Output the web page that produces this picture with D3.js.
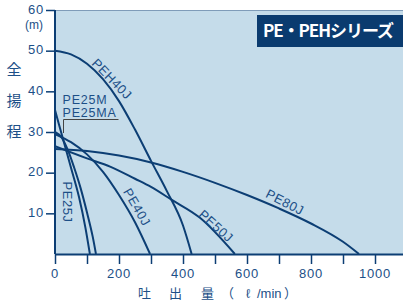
<!DOCTYPE html>
<html>
<head>
<meta charset="utf-8">
<script src="https://cdn.jsdelivr.net/npm/d3@7"></script>
<style>
  html, body { margin: 0; padding: 0; background: #fff; }
  svg { display: block; }
</style>
</head>
<body>
<svg class="target"></svg>
<script>
// flow (l/min) and head (m)
const peh40jQ = [0, 50, 100, 150, 200, 250, 300, 350, 400, 427];
const peh40jH = [50, 49.1, 46.8, 43, 37.6, 30.6, 22.9, 15.4, 7, 0];
const pe25mQ = [0, 25, 50, 75, 95, 109];
const pe25mH = [35.4, 28.3, 21.2, 14, 6.5, 0];
const pe25jQ = [0, 20, 40, 60, 80, 100, 118, 128];
const pe25jH = [30, 28.7, 25.6, 21.2, 16.2, 10.2, 4.2, 0];
const pe40jQ = [0, 50, 100, 150, 200, 250, 297];
const pe40jH = [29.5, 27.5, 24.5, 20.2, 14.5, 7.8, 0];
const pe50jQ = [0, 100, 172, 250, 300, 365, 453, 562];
const pe50jH = [26.5, 23.5, 21.5, 18.5, 16.5, 13.3, 8.9, 0];
const pe80jQ = [0, 100, 200, 300, 400, 500, 600, 700, 800, 900, 950];
const pe80jH = [25.8, 25.3, 24.2, 22.5, 20.2, 17.5, 14.5, 11.2, 7.5, 3, 0];

const xTicks = [0, 100, 200, 300, 400, 500, 600, 700, 800, 900, 1000];
const xLabels = [0, 200, 400, 600, 800, 1000];
const yTicks = [10, 20, 30, 40, 50, 60];
const yTitle = ["全", "揚", "程"];
const title = "PE・PEHシリーズ";

document.addEventListener("DOMContentLoaded", function() {
    drawChart();
});

function drawChart() {
    const width = 403;
    const height = 305;
    const navy = "#0c3e74";
    const textCol = "#1c4f87";
    const font = "'Liberation Sans', Arial, sans-serif";
    const cjk = "'Noto Sans CJK JP', sans-serif";

    const svg = d3.select(".target")
        .attr("viewBox", [0, 0, width, height])
        .attr("width", width)
        .attr("height", height);

    const x = d3.scaleLinear().domain([0, 1000]).range([55, 375]);
    const y = d3.scaleLinear().domain([0, 60]).range([254, 10]);

    // plot background
    svg.append("rect")
        .attr("x", x(0)).attr("y", y(60))
        .attr("width", width - x(0)).attr("height", y(0) - y(60))
        .attr("fill", "#c5dcea");
    svg.append("line")
        .attr("x1", x(0)).attr("x2", width)
        .attr("y1", y(60) + 0.5).attr("y2", y(60) + 0.5)
        .attr("stroke", "#7f9cb9").attr("stroke-width", 1);

    svg.append("clipPath").attr("id", "plot")
        .append("rect")
        .attr("x", x(0)).attr("y", y(60))
        .attr("width", width - x(0)).attr("height", y(0) - y(60));

    // title box
    svg.append("rect")
        .attr("x", 257).attr("y", 15).attr("width", width - 257).attr("height", 32)
        .attr("fill", "#0a3b6f");
    svg.append("text")
        .attr("x", 263).attr("y", 36.5)
        .attr("font-family", cjk).attr("font-weight", "bold")
        .attr("font-size", 17).attr("fill", "#fff")
        .attr("textLength", 131).attr("lengthAdjust", "spacing")
        .text(title);

    // curves
    const series = [
        [peh40jQ, peh40jH], [pe25mQ, pe25mH], [pe25jQ, pe25jH],
        [pe40jQ, pe40jH], [pe50jQ, pe50jH], [pe80jQ, pe80jH]
    ];
    const line = d3.line()
        .x(d => x(d[0]))
        .y(d => y(d[1]))
        .curve(d3.curveMonotoneX);
    svg.append("g").attr("clip-path", "url(#plot)")
        .selectAll("path")
        .data(series)
        .enter()
        .append("path")
        .attr("d", s => line(d3.zip(s[0], s[1])))
        .attr("fill", "none")
        .attr("stroke", navy)
        .attr("stroke-width", 2);

    // x axis
    const xAxis = svg.append("g")
        .attr("transform", "translate(0," + y(0) + ")")
        .call(d3.axisBottom(x).tickValues(xTicks).tickSize(10).tickFormat(""));
    xAxis.select(".domain").attr("d", "M" + x(0) + ",0.5H" + width);
    xAxis.selectAll("line").attr("stroke", navy).attr("stroke-width", 1.5);
    xAxis.select(".domain").attr("stroke", navy).attr("stroke-width", 2);
    svg.append("g").selectAll("text")
        .data(xLabels)
        .enter()
        .append("text")
        .attr("x", d => x(d))
        .attr("y", 278)
        .attr("text-anchor", "middle")
        .attr("font-family", font).attr("font-size", 13)
        .attr("letter-spacing", 0.8)
        .attr("fill", textCol)
        .text(d => d);

    // y axis
    const yAxis = svg.append("g")
        .attr("transform", "translate(" + x(0) + ",0)")
        .call(d3.axisLeft(y).tickValues(yTicks).tickSize(9).tickFormat(""));
    yAxis.select(".domain").attr("d", "M0," + y(60) + "V" + y(0));
    yAxis.selectAll("line").attr("stroke", navy).attr("stroke-width", 1.5);
    yAxis.select(".domain").attr("stroke", navy).attr("stroke-width", 2);
    svg.append("g").selectAll("text")
        .data(yTicks)
        .enter()
        .append("text")
        .attr("x", 44)
        .attr("y", d => y(d) + 3.5)
        .attr("text-anchor", "end")
        .attr("font-family", font).attr("font-size", 13)
        .attr("letter-spacing", 0.8)
        .attr("fill", textCol)
        .text(d => d);
    svg.append("text")
        .attr("x", 34).attr("y", 29)
        .attr("text-anchor", "middle")
        .attr("font-family", font).attr("font-size", 12)
        .attr("fill", textCol)
        .text("(m)");
    svg.append("g").selectAll("text")
        .data(yTitle)
        .enter()
        .append("text")
        .attr("x", 14)
        .attr("y", (d, i) => [75, 106, 137][i])
        .attr("text-anchor", "middle")
        .attr("font-family", cjk).attr("font-size", 15)
        .attr("fill", textCol)
        .text(d => d);

    // x title
    const xt = svg.append("text")
        .attr("y", 298)
        .attr("font-family", cjk).attr("font-size", 13)
        .attr("fill", textCol);
    xt.append("tspan").attr("x", 138).text("吐");
    xt.append("tspan").attr("x", 169).text("出");
    xt.append("tspan").attr("x", 201).text("量");
    xt.append("tspan").attr("x", 221).text("（");
    xt.append("tspan").attr("x", 246).attr("font-family", font).text("ℓ");
    xt.append("tspan").attr("x", 257).attr("font-family", font).text("/min");
    xt.append("tspan").attr("x", 284).text("）");

    // curve labels
    const labels = [
        {t: "PEH40J", cx: 112, cy: 79, a: 46},
        {t: "PE25J", cx: 68, cy: 202, a: 90},
        {t: "PE40J", cx: 137, cy: 207, a: 60},
        {t: "PE50J", cx: 216, cy: 226, a: 42},
        {t: "PE80J", cx: 285, cy: 202, a: 27}
    ];
    svg.append("g").selectAll("text")
        .data(labels)
        .enter()
        .append("text")
        .attr("transform", d => "translate(" + d.cx + "," + d.cy + ") rotate(" + d.a + ")")
        .attr("text-anchor", "middle")
        .attr("dy", "0.35em")
        .attr("font-family", font).attr("font-size", 13)
        .attr("letter-spacing", 0.5)
        .attr("fill", textCol)
        .text(d => d.t);

    svg.append("text")
        .attr("x", 62.5).attr("y", 103.5)
        .attr("font-family", font).attr("font-size", 12.5)
        .attr("letter-spacing", 0.8)
        .attr("fill", textCol)
        .text("PE25M");
    svg.append("text")
        .attr("x", 62.5).attr("y", 116.5)
        .attr("font-family", font).attr("font-size", 12.5)
        .attr("letter-spacing", 0.8)
        .attr("fill", textCol)
        .text("PE25MA");
    svg.append("path")
        .attr("d", "M118.5,119.5H63.5V133")
        .attr("fill", "none")
        .attr("stroke", "#444")
        .attr("stroke-width", 1);
}
</script>
</body>
</html>
